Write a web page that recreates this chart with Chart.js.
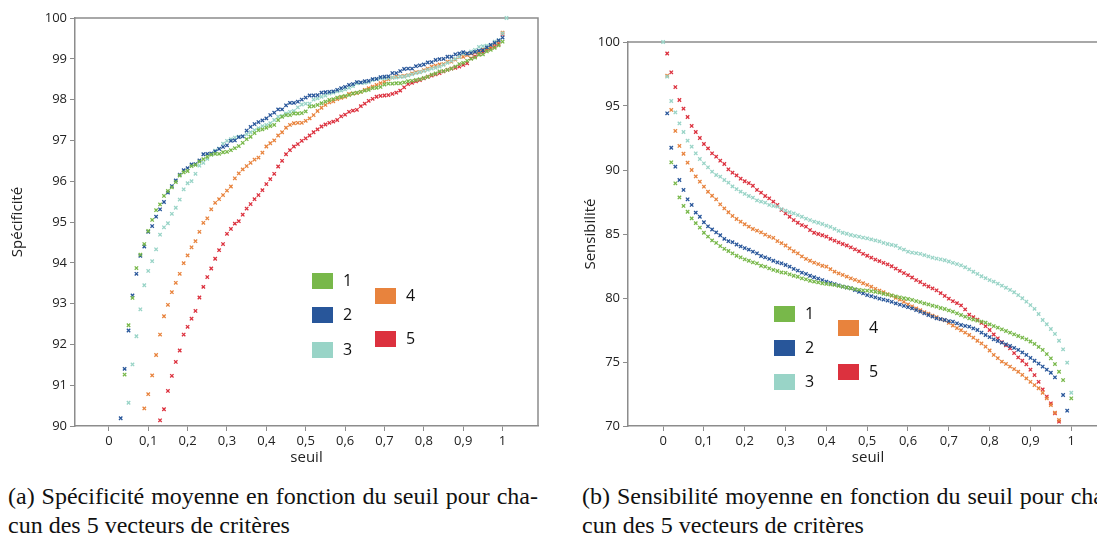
<!DOCTYPE html>
<html lang="fr">
<head>
<meta charset="utf-8">
<title>Spécificité et sensibilité moyennes en fonction du seuil</title>
<script src="https://cdn.jsdelivr.net/npm/chart.js@4.4.1/dist/chart.umd.min.js"></script>
<style>
  html, body { margin: 0; padding: 0; background: #fff; }
  body { width: 1097px; height: 534px; overflow: hidden; position: relative; }
  .box { position: absolute; top: 0; }
  #box-spec { left: 0; }
  #box-sens { left: 555px; }
  .caption {
    position: absolute; top: 482px; width: 530px;
    font-family: "Liberation Serif", "Times New Roman", serif;
    font-size: 24px; line-height: 29px; color: #111;
  }
  .caption .l1 { text-align: justify; text-align-last: justify; }
  #cap-a { left: 8px; }
  #cap-b { left: 582px; }
</style>
</head>
<body>
<div class="box" id="box-spec"><canvas id="chart-spec" width="546" height="470"></canvas></div>
<div class="box" id="box-sens"><canvas id="chart-sens" width="562" height="470"></canvas></div>
<div class="caption" id="cap-a">
  <div class="l1">(a) Spécificité moyenne en fonction du seuil pour cha-</div>
  <div>cun des 5 vecteurs de critères</div>
</div>
<div class="caption" id="cap-b">
  <div class="l1">(b) Sensibilité moyenne en fonction du seuil pour cha-</div>
  <div>cun des 5 vecteurs de critères</div>
</div>
<script>
/* Spécificité / sensibilité moyennes vs seuil — 5 vecteurs de critères */

const SEUIL_TICKS  = [0, 0.1, 0.2, 0.3, 0.4, 0.5, 0.6, 0.7, 0.8, 0.9, 1];
const SEUIL_LABELS = ['0', '0,1', '0,2', '0,3', '0,4', '0,5', '0,6', '0,7', '0,8', '0,9', '1'];
const SEUIL_STEP = 0.01;

const SERIES_NAMES  = ['1', '2', '3', '4', '5'];
const SERIES_COLORS = ['#78b84a', '#28569a', '#99d4c7', '#e8833d', '#dc313e'];

/* Spécificité (%) — first seuil of each series, then one value per 0.01 */
const SPEC_START = [0.04, 0.03, 0.05, 0.09, 0.13];
const SPEC_1 = [
  91.26, 92.47, 93.14, 93.87, 94.20, 94.46, 94.78, 95.05, 95.29, 95.43,
  95.64, 95.76, 95.85, 95.98, 96.14, 96.22, 96.25, 96.37, 96.40, 96.48,
  96.54, 96.60, 96.65, 96.67, 96.67, 96.71, 96.72, 96.76, 96.81, 96.86,
  96.94, 97.03, 97.09, 97.18, 97.25, 97.27, 97.31, 97.35, 97.38, 97.50,
  97.58, 97.62, 97.62, 97.66, 97.66, 97.67, 97.71, 97.83, 97.84, 97.87,
  97.91, 97.95, 97.99, 98.01, 98.05, 98.07, 98.09, 98.11, 98.15, 98.17,
  98.19, 98.22, 98.24, 98.28, 98.29, 98.31, 98.37, 98.39, 98.39, 98.40,
  98.40, 98.42, 98.45, 98.46, 98.48, 98.50, 98.53, 98.56, 98.61, 98.64,
  98.69, 98.70, 98.73, 98.76, 98.81, 98.87, 98.90, 98.95, 99.00, 99.03,
  99.10, 99.11, 99.18, 99.22, 99.27, 99.33, 99.42
];
const SPEC_2 = [
  90.19, 91.40, 92.34, 93.20, 93.73, 94.17, 94.40, 94.76, 94.90, 95.13,
  95.31, 95.49, 95.72, 95.88, 96.02, 96.16, 96.27, 96.32, 96.41, 96.42,
  96.51, 96.66, 96.67, 96.68, 96.73, 96.79, 96.84, 96.88, 96.99, 97.00,
  97.08, 97.10, 97.24, 97.33, 97.40, 97.45, 97.49, 97.54, 97.62, 97.68,
  97.76, 97.76, 97.86, 97.92, 97.92, 97.95, 98.00, 98.05, 98.10, 98.10,
  98.11, 98.17, 98.18, 98.19, 98.20, 98.24, 98.28, 98.31, 98.36, 98.38,
  98.43, 98.42, 98.45, 98.46, 98.50, 98.51, 98.55, 98.56, 98.57, 98.65,
  98.65, 98.70, 98.75, 98.76, 98.76, 98.82, 98.84, 98.86, 98.91, 98.92,
  98.97, 98.99, 99.00, 99.05, 99.05, 99.11, 99.13, 99.16, 99.13, 99.14,
  99.17, 99.20, 99.21, 99.28, 99.34, 99.39, 99.45, 99.52
];
const SPEC_3 = [
  90.57, 91.51, 92.20, 92.86, 93.45, 93.80, 94.04, 94.33, 94.69, 94.87,
  94.97, 95.20, 95.35, 95.55, 95.80, 95.95, 96.00, 96.18, 96.38, 96.45,
  96.55, 96.65, 96.75, 96.80, 96.92, 96.99, 97.03, 97.07, 97.09, 97.10,
  97.15, 97.20, 97.25, 97.30, 97.35, 97.38, 97.42, 97.50, 97.58, 97.60,
  97.66, 97.70, 97.72, 97.81, 97.88, 97.90, 97.90, 98.00, 98.03, 98.07,
  98.10, 98.15, 98.17, 98.20, 98.22, 98.25, 98.29, 98.33, 98.40, 98.41,
  98.41, 98.43, 98.48, 98.50, 98.52, 98.52, 98.53, 98.54, 98.54, 98.56,
  98.56, 98.59, 98.62, 98.65, 98.67, 98.70, 98.73, 98.76, 98.78, 98.81,
  98.85, 98.90, 98.95, 99.00, 99.05, 99.13, 99.13, 99.18, 99.22, 99.29,
  99.31, 99.32, 99.34, 99.42, 99.46, 99.62, 100.0
];
const SPEC_4 = [
  90.43, 90.78, 91.24, 91.74, 92.24, 92.69, 92.97, 93.28, 93.51, 93.73,
  93.99, 94.18, 94.38, 94.53, 94.76, 94.98, 95.09, 95.31, 95.47, 95.56,
  95.66, 95.77, 95.87, 96.07, 96.19, 96.29, 96.37, 96.45, 96.53, 96.58,
  96.70, 96.85, 96.93, 97.00, 97.12, 97.20, 97.31, 97.38, 97.42, 97.43,
  97.43, 97.48, 97.54, 97.62, 97.72, 97.80, 97.87, 97.93, 97.96, 98.01,
  98.04, 98.07, 98.14, 98.15, 98.16, 98.19, 98.24, 98.28, 98.32, 98.36,
  98.40, 98.44, 98.50, 98.54, 98.57, 98.57, 98.58, 98.60, 98.64, 98.67,
  98.68, 98.72, 98.76, 98.81, 98.83, 98.86, 98.87, 98.93, 98.93, 98.98,
  99.04, 99.05, 99.09, 99.13, 99.16, 99.18, 99.23, 99.26, 99.31, 99.37,
  99.42, 99.64
];
const SPEC_5 = [
  90.14, 90.41, 90.86, 91.23, 91.57, 91.85, 92.24, 92.43, 92.63, 92.82,
  93.15, 93.41, 93.65, 93.86, 94.10, 94.31, 94.46, 94.71, 94.83, 94.96,
  95.02, 95.18, 95.33, 95.44, 95.56, 95.66, 95.78, 95.93, 96.05, 96.18,
  96.36, 96.50, 96.66, 96.76, 96.85, 96.91, 96.99, 97.05, 97.12, 97.20,
  97.27, 97.34, 97.39, 97.43, 97.46, 97.50, 97.59, 97.63, 97.70, 97.73,
  97.75, 97.84, 97.90, 97.97, 98.02, 98.07, 98.09, 98.10, 98.11, 98.14,
  98.17, 98.22, 98.30, 98.38, 98.41, 98.45, 98.48, 98.52, 98.56, 98.59,
  98.62, 98.65, 98.69, 98.73, 98.76, 98.78, 98.81, 98.85, 98.89, 99.01,
  99.06, 99.12, 99.16, 99.22, 99.26, 99.30, 99.36, 99.60
];

/* Sensibilité (%) — null where the point is not visible */
const SENS_START = [0.02, 0.01, 0.00, 0.01, 0.01];
const SENS_1 = [
  90.60, 88.96, 87.86, 87.19, 86.74, 86.22, 85.85, 85.50, 85.10, 84.80,
  84.50, 84.30, 84.06, 83.84, 83.67, 83.49, 83.30, 83.18, 83.02, 82.91,
  82.79, 82.71, 82.52, 82.45, 82.32, 82.19, 82.11, 82.00, 81.97, 81.85,
  81.74, 81.66, 81.54, 81.46, 81.35, 81.28, 81.22, 81.15, 81.10, 81.06,
  81.02, 80.95, 80.89, 80.82, 80.76, 80.70, 80.64, 80.60, 80.57, 80.53,
  80.49, 80.42, 80.33, 80.27, 80.20, 80.12, 80.05, 79.98, 79.92, 79.85,
  79.76, 79.68, 79.58, 79.50, 79.40, 79.32, 79.22, 79.14, 79.03, 78.93,
  78.80, 78.67, 78.54, 78.41, 78.32, 78.23, 78.15, 78.07, 77.94, 77.81,
  77.68, 77.55, 77.42, 77.29, 77.16, 77.03, 76.90, 76.77, 76.60, 76.41,
  76.18, 75.94, 75.62, 75.29, 74.84, 74.24, 73.59, null, 72.16
];
const SENS_2 = [
  94.43, 91.74, 90.26, 89.22, 88.44, 87.71, 87.27, 86.67, 86.35, 85.92,
  85.60, 85.35, 85.12, 84.90, 84.62, 84.44, 84.36, 84.18, 84.03, 83.90,
  83.78, 83.62, 83.49, 83.28, 83.18, 83.05, 82.91, 82.79, 82.71, 82.58,
  82.45, 82.27, 82.14, 81.98, 81.88, 81.74, 81.62, 81.52, 81.40, 81.28,
  81.18, 81.09, 80.99, 80.89, 80.82, 80.76, 80.62, 80.49, 80.36, 80.23,
  80.14, 80.05, 79.95, 79.88, 79.80, 79.70, 79.58, 79.48, 79.38, 79.28,
  79.19, 79.06, 78.93, 78.80, 78.67, 78.55, 78.41, 78.35, 78.28, 78.20,
  78.15, 78.02, 77.89, 77.82, 77.76, 77.62, 77.50, 77.30, 77.11, 76.95,
  76.77, 76.64, 76.51, 76.38, 76.25, 76.10, 75.94, 75.75, 75.55, 75.32,
  75.10, 74.88, 74.64, 74.40, 74.16, 73.80, null, 72.42, 71.20
];
const SENS_3 = [
  100.0, 97.29, 95.39, 94.50, 93.64, 92.97, 92.29, 91.82, 91.30, 90.86,
  90.52, 90.21, 89.87, 89.61, 89.48, 89.22, 89.01, 88.72, 88.50, 88.31,
  88.13, 87.97, 87.84, 87.62, 87.53, 87.45, 87.27, 87.19, 87.14, 86.95,
  86.82, 86.70, 86.61, 86.48, 86.35, 86.20, 86.09, 85.96, 85.88, 85.78,
  85.65, 85.55, 85.40, 85.25, 85.10, 85.02, 84.92, 84.85, 84.79, 84.72,
  84.66, 84.58, 84.50, 84.42, 84.30, 84.22, 84.15, 84.08, 83.90, 83.78,
  83.62, 83.55, 83.50, 83.45, 83.35, 83.25, 83.15, 83.08, 83.02, 82.95,
  82.85, 82.75, 82.65, 82.55, 82.40, 82.24, 82.05, 81.88, 81.70, 81.55,
  81.40, 81.28, 81.12, 80.96, 80.80, 80.63, 80.45, 80.23, 79.98, 79.71,
  79.45, 79.15, 78.75, 78.28, 77.95, 77.58, 77.19, 76.66, 75.99, 74.95, 72.60
];
const SENS_4 = [
  97.37, 94.69, 93.05, 91.88, 91.27, 90.57, 90.00, 89.50, 89.09, 88.70,
  88.30, 87.99, 87.71, 87.32, 87.00, 86.70, 86.41, 86.17, 85.96, 85.76,
  85.57, 85.39, 85.26, 85.13, 84.95, 84.80, 84.70, 84.45, 84.28, 84.10,
  83.88, 83.65, 83.49, 83.25, 83.05, 82.91, 82.76, 82.65, 82.52, 82.45,
  82.25, 82.06, 81.92, 81.80, 81.67, 81.54, 81.42, 81.30, 81.15, 81.02,
  80.88, 80.72, 80.58, 80.45, 80.30, 80.18, 80.02, 79.88, 79.70, 79.50,
  79.35, 79.18, 79.05, 78.90, 78.78, 78.62, 78.50, 78.35, 78.26, 78.05,
  77.85, 77.65, 77.48, 77.30, 77.11, 76.90, 76.66, 76.45, 76.20, 75.90,
  75.55, 75.30, 75.03, 74.85, 74.64, 74.45, 74.24, 74.00, 73.72, 73.45,
  73.20, 72.95, 72.60, 72.16, 71.64, 71.04, 70.47
];
const SENS_5 = [
  99.10, 97.63, 96.48, 95.47, 94.79, 94.14, 93.44, 92.97, 92.50, 92.03,
  91.69, 91.30, 91.04, 90.73, 90.47, 90.05, 89.79, 89.58, 89.32, 89.12,
  88.98, 88.77, 88.44, 88.23, 87.97, 87.79, 87.53, 87.27, 86.88, 86.61,
  86.35, 86.09, 85.88, 85.70, 85.57, 85.31, 85.10, 85.00, 84.90, 84.79,
  84.62, 84.48, 84.35, 84.22, 84.10, 83.96, 83.80, 83.65, 83.45, 83.30,
  83.15, 83.00, 82.88, 82.75, 82.62, 82.48, 82.30, 82.12, 81.95, 81.78,
  81.60, 81.40, 81.25, 81.05, 80.90, 80.75, 80.60, 80.38, 80.16, 79.95,
  79.75, 79.60, 79.42, 79.11, 78.70, 78.50, 78.30, 78.05, 77.80, 77.50,
  77.15, 76.85, 76.55, 76.30, 76.07, 75.70, 75.36, 75.10, 74.82, 74.40,
  73.98, 73.45, 72.86, 72.30, 71.77, 70.99, 70.34
];

const AXIS_GRAY = '#8c8c8c';
const TEXT_COLOR = '#222';
const SANS = '"Open Sans", "DejaVu Sans", sans-serif';

function toPoints(start, values) {
  return values.map((v, i) => ({ x: +(start + i * SEUIL_STEP).toFixed(2), y: v }));
}

function buildDatasets(starts, seriesList) {
  return seriesList.map((values, i) => ({
    label: SERIES_NAMES[i],
    data: toPoints(starts[i], values),
    pointStyle: 'crossRot',
    pointRadius: 2.4,
    pointHoverRadius: 2.4,
    borderWidth: 1.3,
    borderColor: SERIES_COLORS[i],
    backgroundColor: SERIES_COLORS[i],
    showLine: false,
    clip: false,
  }));
}

/* top + right border of the plot frame */
const framePlugin = {
  id: 'frame',
  beforeDatasetsDraw(chart, args, opts) {
    const { ctx, chartArea: a } = chart;
    ctx.save();
    ctx.strokeStyle = opts.color;
    ctx.lineWidth = opts.width;
    ctx.beginPath();
    ctx.moveTo(a.left, a.top);
    ctx.lineTo(a.right, a.top);
    ctx.lineTo(a.right, a.bottom);
    ctx.stroke();
    ctx.restore();
  },
};

/* colour boxes + numbers, laid out like the original (two columns) */
const boxLegendPlugin = {
  id: 'boxLegend',
  afterDraw(chart, args, opts) {
    const { ctx, chartArea: a } = chart;
    ctx.save();
    ctx.font = '16px ' + SANS;
    ctx.textBaseline = 'middle';
    ctx.textAlign = 'left';
    opts.spots.forEach((s, i) => {
      ctx.fillStyle = SERIES_COLORS[i];
      ctx.fillRect(a.left + s[0], a.top + s[1], 21, 16);
      ctx.fillStyle = '#111';
      ctx.fillText(SERIES_NAMES[i], a.left + s[0] + 31, a.top + s[1] + 8.5);
    });
    ctx.restore();
  },
};

function buildOptions(cfg) {
  return {
    responsive: false,
    animation: false,
    events: [],
    layout: { padding: { top: cfg.padTop, right: cfg.padRight, left: 0, bottom: 0 } },
    plugins: {
      legend: { display: false },
      tooltip: { enabled: false },
      frame: { color: AXIS_GRAY, width: 1.5 },
      boxLegend: { spots: cfg.legendSpots },
    },
    scales: {
      x: {
        type: 'linear',
        min: -0.086,
        max: 1.09,
        afterBuildTicks: ax => { ax.ticks = SEUIL_TICKS.map(v => ({ value: v })); },
        afterFit: ax => { ax.height = 44; },
        ticks: {
          autoSkip: false, maxRotation: 0, padding: 2,
          color: TEXT_COLOR, font: { family: SANS, size: 13 },
          callback: v => SEUIL_LABELS[SEUIL_TICKS.indexOf(v)],
        },
        grid: { drawOnChartArea: false, drawTicks: true, tickLength: 5, color: AXIS_GRAY, lineWidth: 1 },
        border: { color: AXIS_GRAY, width: 1.5 },
        title: {
          display: true, text: 'seuil', color: TEXT_COLOR,
          font: { family: SANS, size: 15 }, padding: { top: 0, bottom: 3.5 },
        },
      },
      y: {
        min: cfg.yMin,
        max: cfg.yMax,
        afterFit: ax => { ax.width = cfg.yWidth; },
        ticks: { stepSize: cfg.yStep, padding: 3, color: TEXT_COLOR, font: { family: SANS, size: 13 } },
        grid: { drawOnChartArea: false, drawTicks: true, tickLength: 5, color: AXIS_GRAY, lineWidth: 1 },
        border: { color: AXIS_GRAY, width: 1.5 },
        title: {
          display: true, text: cfg.yTitle, color: TEXT_COLOR,
          font: { family: SANS, size: 15 }, padding: { top: cfg.yTitlePad, bottom: 0 },
        },
      },
    },
  };
}

new Chart(document.getElementById('chart-spec'), {
  type: 'scatter',
  data: { datasets: buildDatasets(SPEC_START, [SPEC_1, SPEC_2, SPEC_3, SPEC_4, SPEC_5]) },
  options: buildOptions({
    padTop: 18, padRight: 8, yWidth: 75, yMin: 90, yMax: 100, yStep: 1,
    yTitle: 'Spécificité', yTitlePad: 8.5,
    legendSpots: [[237, 255], [237, 289], [237, 324], [300, 270], [300, 313]],
  }),
  plugins: [framePlugin, boxLegendPlugin],
});

new Chart(document.getElementById('chart-sens'), {
  type: 'scatter',
  data: { datasets: buildDatasets(SENS_START, [SENS_1, SENS_2, SENS_3, SENS_4, SENS_5]) },
  options: buildOptions({
    padTop: 42, padRight: 9, yWidth: 73, yMin: 70, yMax: 100, yStep: 5,
    yTitle: 'Sensibilité', yTitlePad: 27,
    legendSpots: [[146, 264], [146, 298], [146, 332], [210, 278], [210, 322]],
  }),
  plugins: [framePlugin, boxLegendPlugin],
});
</script>
</body>
</html>
